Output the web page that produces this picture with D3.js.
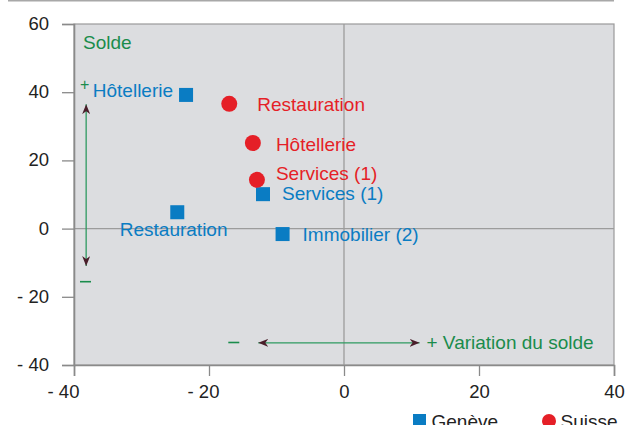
<!DOCTYPE html>
<html>
<head>
<meta charset="utf-8">
<script src="https://cdn.jsdelivr.net/npm/d3@7"></script>
<style>
  html, body { margin: 0; padding: 0; background: #fff; }
  svg { display: block; font-family: "Liberation Sans", Arial, sans-serif; }
</style>
</head>
<body>
<script>
// ---- Data ----
const geneveCategories = ["Hôtellerie", "Services (1)", "Restauration", "Immobilier (2)"];
const geneveX = [-23.4, -12.0, -24.7, -9.1];
const geneveY = [39.2, 10.1, 4.8, -1.6];

const suisseCategories = ["Restauration", "Hôtellerie", "Services (1)"];
const suisseX = [-17.0, -13.5, -12.9];
const suisseY = [36.6, 25.1, 14.3];

const xTicks = [-40, -20, 0, 20, 40];
const yTicks = [-40, -20, 0, 20, 40, 60];
const xTickLabels = ["- 40", "- 20", "0", "20", "40"];
const yTickLabels = ["- 40", "- 20", "0", "20", "40", "60"];

const seriesNames = ["Genève", "Suisse"];

// ---- Styles ----
const W = 633, H = 425;
const margin = { left: 74, right: 19, top: 24, bottom: 60 };
const BLUE = "#0a7cc3", RED = "#e51f27", GREEN = "#1a8c4c", ARROW = "#4a1e2a";
const FS = 19;

const svg = d3.select("body").append("svg").attr("width", W).attr("height", H);

const x = d3.scaleLinear().domain([-40, 40]).range([margin.left, W - margin.right]);
const y = d3.scaleLinear().domain([-40, 60]).range([H - margin.bottom, margin.top]);

// top rule
svg.append("line").attr("x1", 8).attr("x2", 614).attr("y1", 0.8).attr("y2", 0.8)
  .attr("stroke", "#a8a8a8").attr("stroke-width", 1.6);

// plot background
svg.append("rect")
  .attr("x", x(-40)).attr("y", y(60))
  .attr("width", x(40) - x(-40)).attr("height", y(-40) - y(60))
  .attr("fill", "#dcdde0")
  .attr("stroke", "#9a9a9a").attr("stroke-width", 1.2);

// zero lines
svg.append("line").attr("x1", x(0)).attr("x2", x(0)).attr("y1", y(60)).attr("y2", y(-40))
  .attr("stroke", "#9c9c9c").attr("stroke-width", 1.3);
svg.append("line").attr("x1", x(-40)).attr("x2", x(40)).attr("y1", y(0)).attr("y2", y(0))
  .attr("stroke", "#9c9c9c").attr("stroke-width", 1.3);

// axes
const xAxis = d3.axisBottom(x).tickValues(xTicks).tickSize(11).tickFormat((d, i) => xTickLabels[i]);
const gx = svg.append("g").attr("transform", `translate(0,${y(-40)})`).call(xAxis);
gx.select(".domain").attr("stroke", "#8a8a8a").attr("stroke-width", 1.6);
gx.selectAll(".tick line").attr("stroke", "#8a8a8a").attr("stroke-width", 1.3);
gx.selectAll(".tick text").attr("font-size", 18.5).attr("fill", "#222")
  .attr("font-family", "Liberation Sans, Arial, sans-serif")
  .attr("y", 19.5).attr("dy", "0.71em")
  .attr("dx", d => d < 0 ? (d === -40 ? -11 : -6) : 0);

const yAxis = d3.axisLeft(y).tickValues(yTicks).tickSize(12).tickFormat((d, i) => yTickLabels[i]);
const gy = svg.append("g").attr("transform", `translate(${x(-40)},0)`).call(yAxis);
gy.select(".domain").attr("stroke", "#8a8a8a").attr("stroke-width", 1.6);
gy.selectAll(".tick line").attr("stroke", "#8a8a8a").attr("stroke-width", 1.3);
gy.selectAll(".tick text").attr("font-size", 18.5).attr("fill", "#222")
  .attr("font-family", "Liberation Sans, Arial, sans-serif")
  .attr("x", -25).attr("dy", "0.3em");

// arrow markers
const defs = svg.append("defs");
defs.append("marker").attr("id", "ah").attr("viewBox", "0 0 10 8")
  .attr("refX", 10).attr("refY", 4).attr("markerWidth", 10).attr("markerHeight", 8)
  .attr("markerUnits", "userSpaceOnUse").attr("orient", "auto-start-reverse")
  .append("path").attr("d", "M0,0 L10,4 L0,8 L3,4 Z").attr("fill", ARROW);

// vertical "Solde" arrow
svg.append("line")
  .attr("x1", x(-38.2)).attr("x2", x(-38.2)).attr("y1", y(36.5)).attr("y2", y(-11))
  .attr("stroke", "#2e9a60").attr("stroke-width", 1.3)
  .attr("marker-start", "url(#ah)").attr("marker-end", "url(#ah)");
// horizontal "Variation" arrow
svg.append("line")
  .attr("x1", x(-12.7)).attr("x2", x(11.2)).attr("y1", y(-33.5)).attr("y2", y(-33.5))
  .attr("stroke", "#2e9a60").attr("stroke-width", 1.3)
  .attr("marker-start", "url(#ah)").attr("marker-end", "url(#ah)");

const ann = svg.append("g").attr("fill", GREEN).attr("font-size", FS);
ann.append("text").attr("x", 83).attr("y", 49).text("Solde");
ann.append("text").attr("x", 80).attr("y", 90).attr("font-size", 16).text("+");
ann.append("line").attr("x1", 80).attr("x2", 91).attr("y1", 281.7).attr("y2", 281.7)
  .attr("stroke", GREEN).attr("stroke-width", 1.6);
ann.append("line").attr("x1", 228.3).attr("x2", 239.3).attr("y1", 342.5).attr("y2", 342.5)
  .attr("stroke", GREEN).attr("stroke-width", 1.6);
ann.append("text").attr("x", 426.5).attr("y", 348.5).text("+ Variation du solde");

// Genève squares
const gen = geneveCategories.map((c, i) => ({ c, x: geneveX[i], y: geneveY[i] }));
const genLbl = [
  { dx: -13, dy: 2, anchor: "end" },
  { dx: 19, dy: 6, anchor: "start" },
  { dx: -57.5, dy: 23.5, anchor: "start" },
  { dx: 20, dy: 6.5, anchor: "start" }
];
const SQ = 14;
svg.append("g").selectAll("rect").data(gen).join("rect")
  .attr("x", d => x(d.x) - SQ / 2).attr("y", d => y(d.y) - SQ / 2)
  .attr("width", SQ).attr("height", SQ).attr("fill", BLUE);
svg.append("g").selectAll("text").data(gen).join("text")
  .attr("x", (d, i) => x(d.x) + genLbl[i].dx).attr("y", (d, i) => y(d.y) + genLbl[i].dy)
  .attr("text-anchor", (d, i) => genLbl[i].anchor)
  .attr("font-size", FS).attr("fill", BLUE).text(d => d.c);

// Suisse circles
const sui = suisseCategories.map((c, i) => ({ c, x: suisseX[i], y: suisseY[i] }));
const suiLbl = [
  { dx: 28, dy: 7 },
  { dx: 23, dy: 8 },
  { dx: 19, dy: 0.3 }
];
svg.append("g").selectAll("circle").data(sui).join("circle")
  .attr("cx", d => x(d.x)).attr("cy", d => y(d.y)).attr("r", 8).attr("fill", RED);
svg.append("g").selectAll("text").data(sui).join("text")
  .attr("x", (d, i) => x(d.x) + suiLbl[i].dx).attr("y", (d, i) => y(d.y) + suiLbl[i].dy)
  .attr("font-size", FS).attr("fill", RED).text(d => d.c);

// legend
const leg = svg.append("g");
leg.append("rect").attr("x", 413).attr("y", 414).attr("width", 13).attr("height", 13).attr("fill", BLUE);
leg.append("text").attr("x", 431.5).attr("y", 428).attr("font-size", FS).attr("fill", "#222").text(seriesNames[0]);
leg.append("circle").attr("cx", 549).attr("cy", 421).attr("r", 7).attr("fill", RED);
leg.append("text").attr("x", 560.5).attr("y", 428).attr("font-size", FS).attr("fill", "#222").text(seriesNames[1]);
</script>
</body>
</html>
